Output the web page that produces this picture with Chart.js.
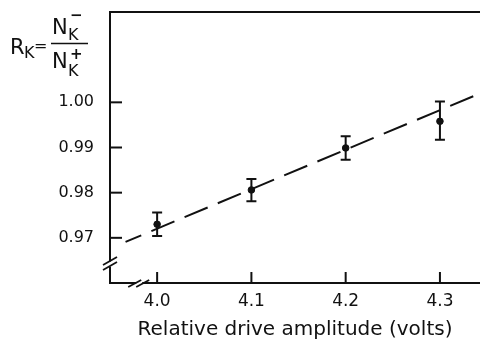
<!DOCTYPE html>
<html><head><meta charset="utf-8">
<script src="https://cdn.jsdelivr.net/npm/chart.js@4/dist/chart.umd.min.js"></script>
<style>html,body{margin:0;padding:0;background:#fff;} #wrap{width:480px;height:343px;position:relative;}</style>
</head><body><div id="wrap"><canvas id="c"></canvas></div>
<script>
const driveVolts = [4.0, 4.1, 4.2, 4.3];
const ratioValues = [0.9730, 0.9806, 0.9899, 0.9958];
const errorUp = [0.0026, 0.0024, 0.0026, 0.0044];
const errorDown = [0.0026, 0.0025, 0.0026, 0.0041];
const fitLineX = [3.9665, 4.337];
const fitLineY = [0.9691, 1.0015];
const xTickValues = [4.0, 4.1, 4.2, 4.3];
const xTickLabels = ['4.0', '4.1', '4.2', '4.3'];
const yTickValues = [0.97, 0.98, 0.99, 1.00];
const yTickLabels = ['0.97', '0.98', '0.99', '1.00'];
const xAxisTitle = 'Relative drive amplitude (volts)';
const xBreakValue = 3.981;
const yBreakValue = 0.9643;

const INK = '#111';
const FONT = 'DejaVu Sans';

const framePlugin = {
  id: 'frame',
  afterDraw(chart) {
    const {ctx, chartArea: a, scales: {x, y}} = chart;
    ctx.save();
    ctx.strokeStyle = INK; ctx.lineWidth = 2; ctx.lineCap = 'butt';
    ctx.beginPath(); ctx.moveTo(a.left - 1, a.top); ctx.lineTo(a.right, a.top); ctx.stroke();
    yTickValues.forEach(v => {
      const py = y.getPixelForValue(v);
      ctx.beginPath(); ctx.moveTo(a.left, py); ctx.lineTo(a.left + 12, py); ctx.stroke();
    });
    xTickValues.forEach(v => {
      const px = x.getPixelForValue(v);
      ctx.beginPath(); ctx.moveTo(px, a.bottom); ctx.lineTo(px, a.bottom - 11); ctx.stroke();
    });
    const by = y.getPixelForValue(yBreakValue);
    ctx.fillStyle = '#fff';
    ctx.fillRect(a.left - 3, by - 2, 6, 5);
    ctx.lineWidth = 1.8;
    [-2.5, 2.5].forEach(d => {
      ctx.beginPath(); ctx.moveTo(a.left - 7, by + d + 4); ctx.lineTo(a.left + 7, by + d - 4); ctx.stroke();
    });
    const bx = x.getPixelForValue(xBreakValue);
    ctx.fillStyle = '#fff';
    ctx.fillRect(bx - 3, a.bottom - 3, 6, 6);
    [-4, 4].forEach(d => {
      ctx.beginPath(); ctx.moveTo(bx + d - 7, a.bottom + 4); ctx.lineTo(bx + d + 6, a.bottom - 3); ctx.stroke();
    });
    ctx.fillStyle = INK; ctx.textBaseline = 'alphabetic'; ctx.textAlign = 'left';
    ctx.font = '21px ' + FONT;
    ctx.fillText('R', 10, 54);
    ctx.fillText('N', 52, 34);
    ctx.fillText('N', 52, 68);
    ctx.font = '16px ' + FONT;
    ctx.fillText('K', 24, 58);
    ctx.fillText('K', 68, 40);
    ctx.fillText('K', 68, 76);
    ctx.fillText('=', 34, 51);
    ctx.font = 'bold 15px ' + FONT;
    ctx.fillText('\u2212', 70, 20);
    ctx.fillText('+', 70, 59);
    ctx.lineWidth = 1.6;
    ctx.beginPath(); ctx.moveTo(51, 43.5); ctx.lineTo(88, 43.5); ctx.stroke();
    ctx.restore();
  }
};

const errorBarPlugin = {
  id: 'errbars',
  afterDatasetsDraw(chart) {
    const {ctx, scales: {x, y}} = chart;
    ctx.save();
    ctx.strokeStyle = INK; ctx.lineWidth = 2;
    driveVolts.forEach((v, i) => {
      const px = x.getPixelForValue(v);
      const top = y.getPixelForValue(ratioValues[i] + errorUp[i]);
      const bot = y.getPixelForValue(ratioValues[i] - errorDown[i]);
      ctx.beginPath();
      ctx.moveTo(px, top); ctx.lineTo(px, bot);
      ctx.moveTo(px - 5, top); ctx.lineTo(px + 5, top);
      ctx.moveTo(px - 5, bot); ctx.lineTo(px + 5, bot);
      ctx.stroke();
    });
    ctx.restore();
  }
};

new Chart(document.getElementById('c'), {
  type: 'scatter',
  data: {
    datasets: [
      {
        label: 'fit',
        type: 'line',
        data: fitLineX.map((xv, i) => ({x: xv, y: fitLineY[i]})),
        borderColor: INK, borderWidth: 2, borderDash: [25, 11], borderDashOffset: 8,
        pointRadius: 0, fill: false, order: 2
      },
      {
        label: 'R_K',
        data: driveVolts.map((xv, i) => ({x: xv, y: ratioValues[i]})),
        backgroundColor: INK, borderColor: INK, pointRadius: 3.3, pointHoverRadius: 3.3,
        showLine: false, order: 1
      }
    ]
  },
  options: {
    responsive: true, maintainAspectRatio: false, animation: false,
    layout: {autoPadding: false, padding: {top: 12, right: 0, left: 0, bottom: 0}},
    plugins: {legend: {display: false}, tooltip: {enabled: false}},
    scales: {
      x: {
        type: 'linear', min: 3.95, max: 4.3425,
        afterBuildTicks: s => { s.ticks = xTickValues.map(v => ({value: v})); },
        afterFit: s => { s.height = 60; s.paddingLeft = 0; s.paddingRight = 0; },
        ticks: {
          callback: v => xTickLabels[xTickValues.findIndex(t => Math.abs(t - v) < 1e-6)],
          color: INK, font: {family: FONT, size: 17}, padding: 8, maxRotation: 0
        },
        grid: {display: false, drawTicks: false},
        border: {display: true, color: INK, width: 2},
        title: {display: true, text: xAxisTitle, color: INK, font: {family: FONT, size: 20}, padding: {top: 0, bottom: 1}}
      },
      y: {
        type: 'linear', min: 0.96, max: 1.02,
        afterBuildTicks: s => { s.ticks = yTickValues.map(v => ({value: v})); },
        afterFit: s => { s.width = 110; s.paddingTop = 0; s.paddingBottom = 0; },
        ticks: {
          callback: v => yTickLabels[yTickValues.findIndex(t => Math.abs(t - v) < 1e-6)],
          color: INK, font: {family: FONT, size: 16}, padding: 16
        },
        grid: {display: false, drawTicks: false},
        border: {display: true, color: INK, width: 2}
      }
    }
  },
  plugins: [errorBarPlugin, framePlugin]
});
</script></body></html>
